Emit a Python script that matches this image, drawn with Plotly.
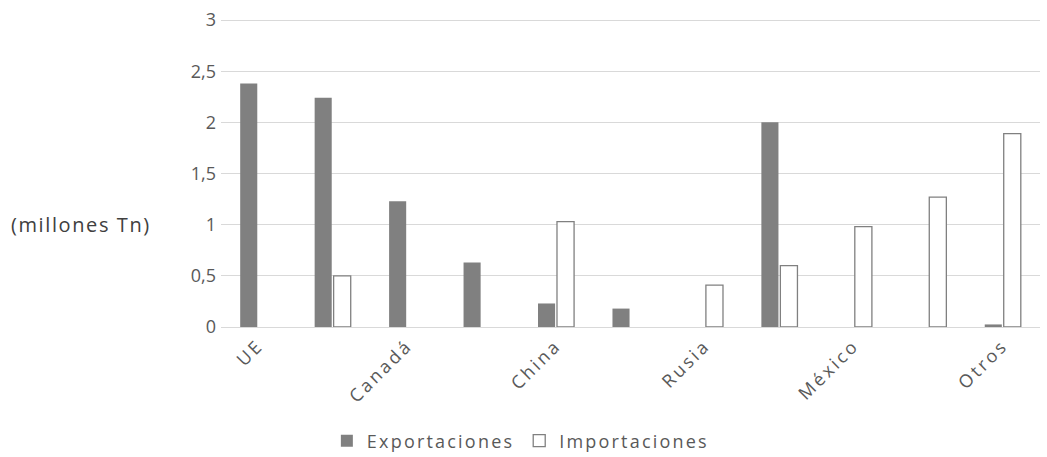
import plotly.graph_objects as go

categories = ["UE", "Japón", "Canadá", "Corea del Sur", "China", "Taiwán",
              "Rusia", "Hong Kong", "México", "Vietnam", "Otros"]
exportaciones = [2.38, 2.24, 1.23, 0.63, 0.23, 0.18, None, 2.00, None, None, 0.025]
importaciones = [None, 0.50, None, None, 1.03, None, 0.41, 0.60, 0.98, 1.27, 1.89]
shown_labels = ["UE", "Canadá", "China", "Rusia", "México", "Otros"]
y_ticks = [0, 0.5, 1, 1.5, 2, 2.5, 3]
y_title = "(millones Tn)"

font_family = "Open Sans, Liberation Sans, sans-serif"
text_color = "#595959"


def spaced(text, px):
    return f'<span style="letter-spacing:{px}px">{text}</span>'


fig = go.Figure()
fig.add_trace(go.Bar(
    x=categories, y=exportaciones, name=spaced("Exportaciones", 2.2),
    marker=dict(color="#808080", line=dict(width=0)),
))
fig.add_trace(go.Bar(
    x=categories, y=importaciones, name=spaced("Importaciones", 2.2),
    marker=dict(color="#ffffff", line=dict(color="#808080", width=1.3)),
))

fig.update_layout(
    width=1047, height=457,
    margin=dict(l=221, r=7, t=19, b=130),
    paper_bgcolor="white", plot_bgcolor="white",
    barmode="group", bargap=0.49, bargroupgap=0.1,
    separators=", ",
    font=dict(family=font_family, size=18, color=text_color),
    showlegend=True,
    legend=dict(orientation="h", xref="container", yref="container",
                x=0.497, y=0.035, xanchor="center", yanchor="middle",
                font=dict(size=18, color=text_color), itemwidth=30),
    xaxis=dict(
        tickmode="array", tickvals=shown_labels,
        ticktext=[spaced(t, 2.8) for t in shown_labels],
        tickangle=-45, showgrid=False, showline=True,
        linecolor="#d9d9d9", linewidth=1, ticks="",
        tickfont=dict(size=18, color=text_color),
    ),
    yaxis=dict(
        range=[0, 3.01], tickvals=y_ticks, showgrid=True,
        gridcolor="#d9d9d9", gridwidth=1, zeroline=False,
        showline=False, ticks="", ticklabelstandoff=4,
        tickfont=dict(size=18, color=text_color),
    ),
    annotations=[dict(
        text=spaced(y_title, 1.6), xref="paper", yref="paper",
        x=-0.171, y=0.333, xanchor="center", yanchor="middle",
        showarrow=False, font=dict(size=20, color="#404040"),
    )],
)

fig.write_html("out.html", config={"displayModeBar": False},
               post_script="document.body.style.margin='0';")
